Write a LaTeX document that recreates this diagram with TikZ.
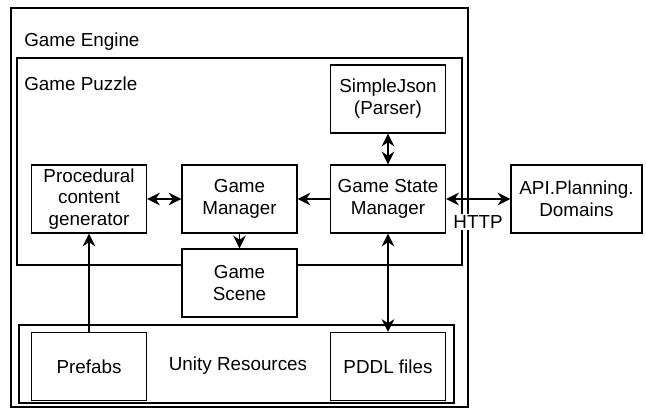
\documentclass[tikz,border=0pt]{standalone}
\usepackage{fontspec}
\setmainfont{Liberation Sans}
\usetikzlibrary{arrows.meta}

\begin{document}
\begin{tikzpicture}[x=0.025cm, y=-0.025cm]
        % ================= 样式定义 =================
        \tikzset{
            % 外层容器
            frame/.style={draw=black, line width=1pt, fill=none, inner sep=0pt},
            % 普通模块
            module/.style={draw=black, line width=1pt, fill=white, align=center, font=\fontsize{13.4}{15.5}\selectfont, minimum width=2.875cm, minimum height=1.7cm, inner sep=1pt},
            % 标签
            tag/.style={font=\fontsize{13.4}{15.5}\selectfont, inner sep=0pt},
            % 连线
            link/.style={line width=1pt, black, -{Stealth[length=9pt, width=9pt]}},
            biglink/.style={line width=1pt, black, {Stealth[length=9pt, width=9pt]}-{Stealth[length=9pt, width=9pt]}}
        }
        \useasboundingbox (0,0) rectangle (646,409);

        % ================= 1. 容器 =================
        \node[frame, minimum width=11.425cm, minimum height=9.975cm] (engine) at (239.5,207.5) {};
        \node[frame, minimum width=11.125cm, minimum height=5.175cm] (puzzle) at (239.5,161.5) {};
        \node[frame, minimum width=10.875cm, minimum height=1.95cm] (unity) at (236.5,364) {};

        \node[tag, anchor=west] (engineLabel) at (24,42) {Game Engine};
        \node[tag, anchor=west] (puzzleLabel) at (24,84) {Game Puzzle};
        \node[tag] (unityLabel) at (238,366) {Unity Resources};

        % ================= 2. 模块 =================
        \node[module] (pcg) at (89,199) {Procedural\\content\\generator};
        \node[module] (gm) at (239.5,199) {Game\\Manager};
        \node[module] (gsm) at (388,199) {Game State\\Manager};
        \node[module] (json) at (388,99) {SimpleJson\\(Parser)};
        \node[module, minimum width=3.275cm] (api) at (576.5,199) {API.Planning.\\Domains};
        \node[module] (scene) at (239.5,283) {Game\\Scene};
        \node[module] (prefabs) at (89,366.5) {Prefabs};
        \node[module] (pddl) at (388,366.5) {PDDL files};

        % ================= 3. 连线 =================
        \draw[biglink] (pcg) -- (gm);
        \draw[link] (gsm) -- (gm);
        \draw[biglink] (gsm) -- (json);
        \draw[link] (gm) -- (scene);
        \draw[link] (prefabs) -- (pcg);
        \draw[biglink] (gsm) -- (pddl);
        \draw[biglink] (gsm) -- (api);

        % HTTP 标签盖住容器边线
        \node[tag, fill=white, inner sep=1pt] (http) at (478,222) {HTTP};

    \end{tikzpicture}
\end{document}
